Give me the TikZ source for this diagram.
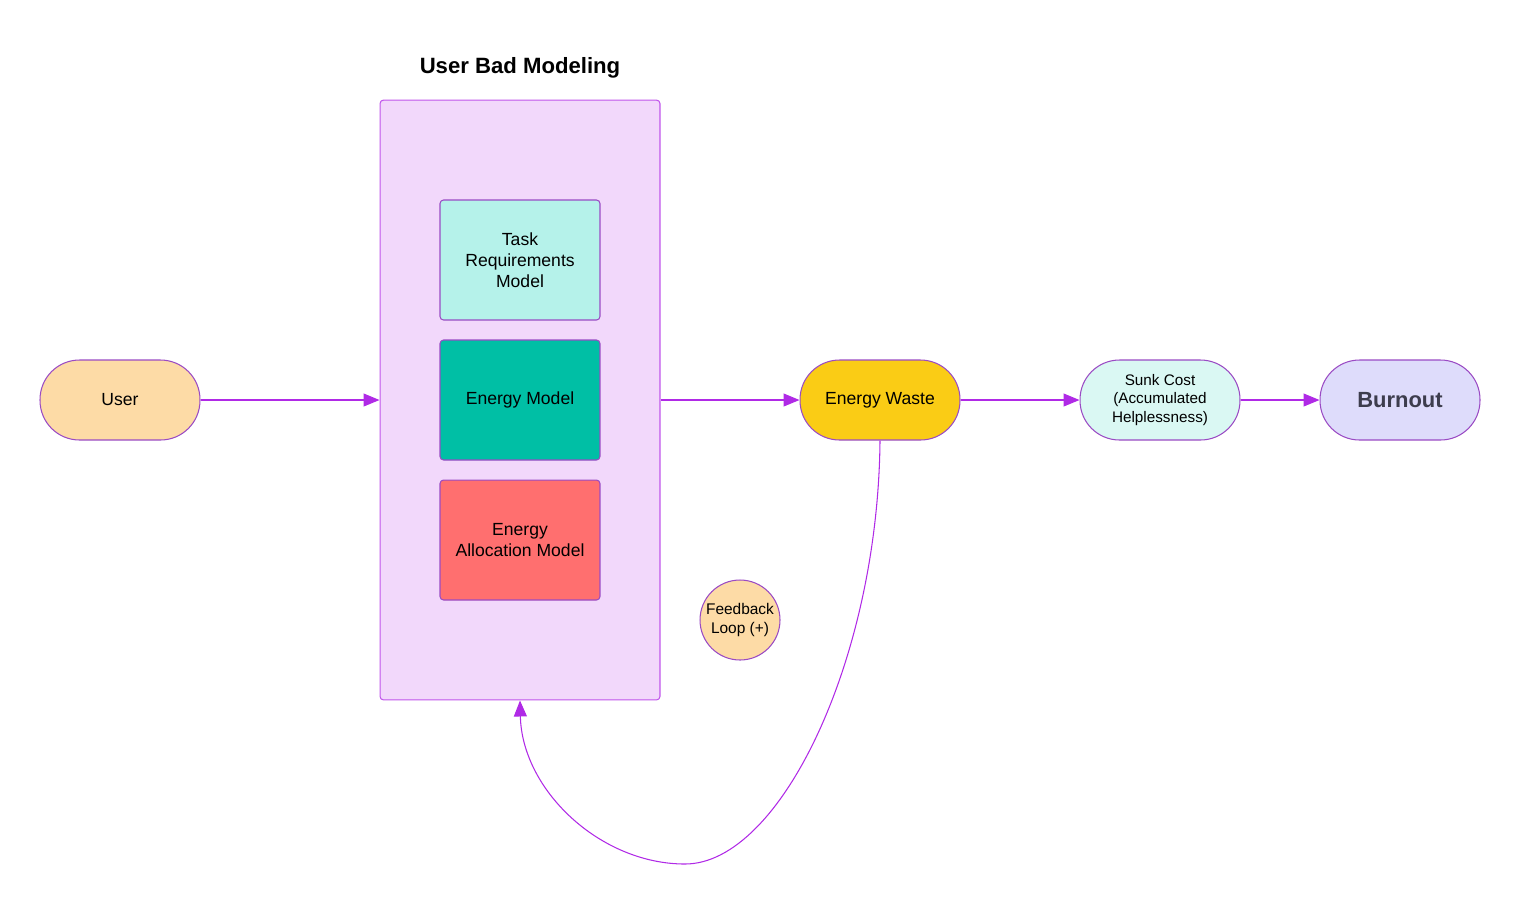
\documentclass[tikz,border=0pt]{standalone}
\usepackage{fontspec}
\setmainfont{Liberation Sans}
\usetikzlibrary{arrows.meta}
\usetikzlibrary{positioning}

\definecolor{edgepurple}{HTML}{B02AE6}
\definecolor{linepurple}{HTML}{9A4BC4}
\definecolor{peach}{HTML}{FDDBA6}
\definecolor{boxlilac}{HTML}{F2D8FB}
\definecolor{mintpale}{HTML}{B5F2EA}
\definecolor{teal}{HTML}{00BFA5}
\definecolor{salmon}{HTML}{FF6F6F}
\definecolor{amber}{HTML}{FACC15}
\definecolor{icecyan}{HTML}{DAF8F3}
\definecolor{lavender}{HTML}{DEDCFB}
\definecolor{slatetext}{HTML}{3D3D4D}

\tikzset{
  pill/.style={draw=linepurple, line width=0.6pt, rounded corners=0.79cm,
    minimum width=3.2cm, minimum height=1.6cm, align=center, inner sep=2pt},
  model/.style={draw=linepurple, line width=0.6pt, rounded corners=2pt,
    minimum width=3.2cm, minimum height=2.4cm, align=center, font=\fontsize{10}{12}\selectfont},
  flow/.style={draw=edgepurple, line width=0.6pt, -{Triangle[length=0.32cm,width=0.26cm]}}
}

\begin{document}
\begin{tikzpicture}[x=0.02cm,y=-0.02cm]
    \useasboundingbox (0,0) rectangle (1520,904);
    \node[draw=edgepurple!80!white, line width=0.6pt, fill=boxlilac, rounded corners=2pt,
      minimum width=5.6cm, minimum height=12cm] (ubm) at (520,400) {};
    \node[font=\bfseries\fontsize{12.6}{14}\selectfont] (title) at (520,68) {User Bad Modeling};
    \node[model, fill=mintpale] (trm) at (520,260) {Task\\Requirements\\Model};
    \node[model, fill=teal] (em) at (520,400) {Energy Model};
    \node[model, fill=salmon] (eam) at (520,540) {Energy\\Allocation Model};

    \node[pill, fill=peach, font=\fontsize{10}{12}\selectfont] (user) at (120,400) {User};
    \node[pill, fill=amber, font=\fontsize{10}{12}\selectfont] (ew) at (880,400) {Energy Waste};
    \node[pill, fill=icecyan, font=\fontsize{8.7}{10.5}\selectfont] (sc) at (1160,400) {Sunk Cost\\(Accumulated\\Helplessness)};
    \node[pill, fill=lavender, text=slatetext, font=\bfseries\fontsize{12.5}{15}\selectfont] (bo) at (1400,400) {Burnout};
    \node[draw=linepurple, line width=0.6pt, fill=peach, circle, minimum size=1.6cm, inner sep=0pt,
      align=center, font=\fontsize{8.8}{10.5}\selectfont] (fl) at (740,620) {Feedback\\Loop (+)};

    \draw[flow] (user) -- (ubm);
    \draw[flow] (ubm) -- (ew);
    \draw[flow] (ew) -- (sc);
    \draw[flow] (sc) -- (bo);
    \coordinate (low) at (685,864);
    \draw[flow] (ew.south) .. controls (878,660) and (780,864) .. (low)
      .. controls (600,864) and (522,790) .. (ubm.south);
  \end{tikzpicture}
\end{document}
